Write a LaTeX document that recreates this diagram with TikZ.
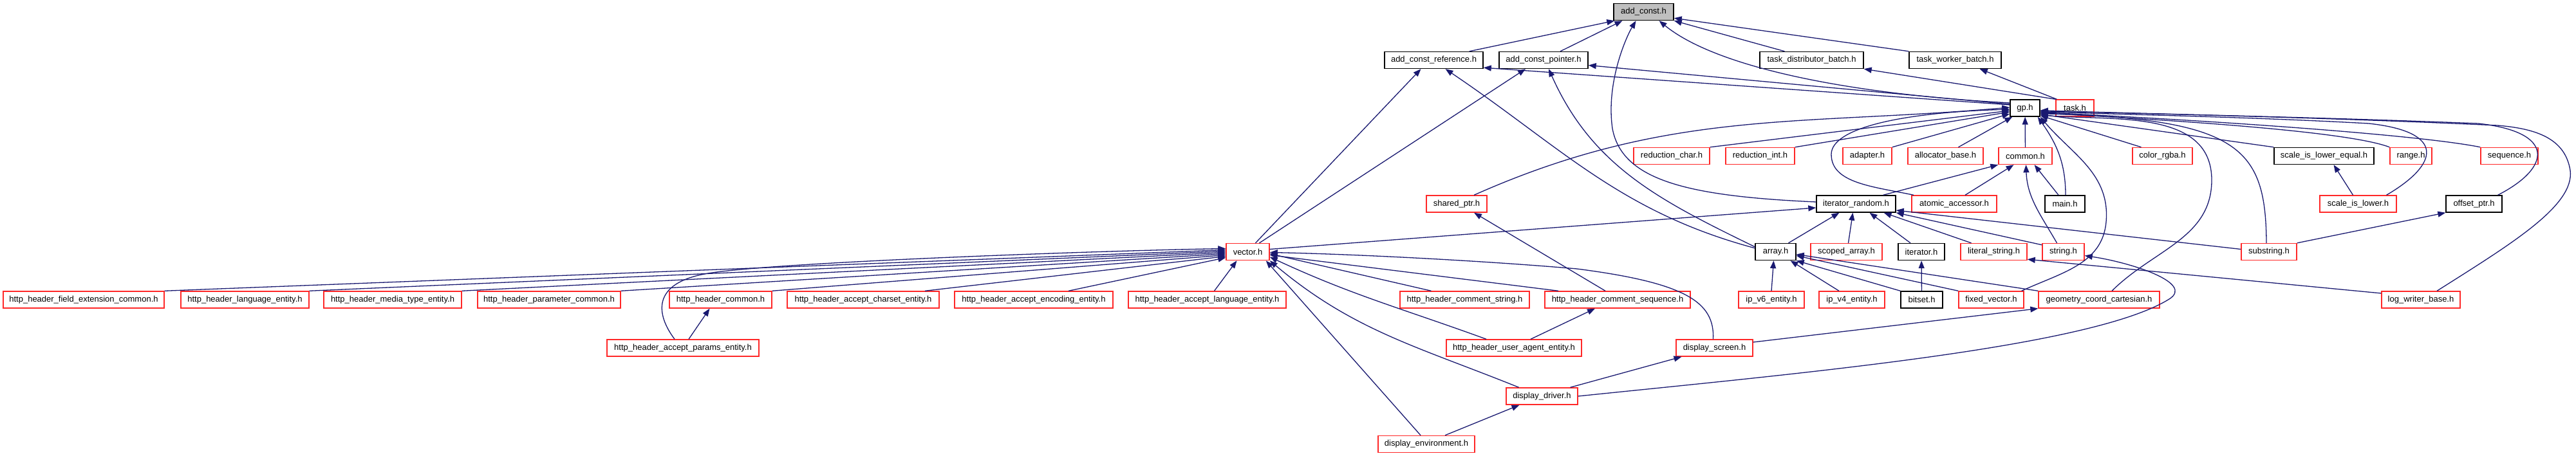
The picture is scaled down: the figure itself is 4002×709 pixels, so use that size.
\documentclass[tikz,border=0pt]{standalone}
\usepackage{fontspec}
\newfontfamily\nodefont{Liberation Sans}
\usetikzlibrary{arrows.meta}
\definecolor{nedge}{RGB}{25,25,112}
\definecolor{nred}{RGB}{255,40,40}
\definecolor{ngray}{RGB}{191,191,191}
\tikzset{
 nbox/.style={draw, line width=1.4pt, minimum height=26pt, inner sep=0pt, fill=white, text=black, font=\nodefont\fontsize{13}{15}\selectfont},
 blk/.style={nbox, draw=black},
 rbox/.style={nbox, draw=nred},
 gbox/.style={nbox, draw=black, fill=ngray},
 dep/.style={draw=nedge, line width=1.3pt, -{Triangle[length=12pt,width=9pt]}},
}
\begin{document}
\begin{tikzpicture}[x=1pt,y=-1pt]
\useasboundingbox (0,0) rectangle (4002,709);
% row 0
\node[gbox,minimum width=93pt] (addconst) at (2553.5,18.5) {add\_const.h};
% row 1
\node[blk,minimum width=153pt] (acref) at (2227.5,93.5) {add\_const\_reference.h};
\node[blk,minimum width=138pt] (acptr) at (2398,93.5) {add\_const\_pointer.h};
\node[blk,minimum width=161pt] (taskdist) at (2814.5,93.5) {task\_distributor\_batch.h};
\node[blk,minimum width=143pt] (taskwork) at (3037.5,93.5) {task\_worker\_batch.h};
% row 2
\node[blk,minimum width=46pt] (gp) at (3146,168) {gp.h};
\node[rbox,minimum width=59pt] (task) at (3223.5,168) {task.h};
% row 3
\node[rbox,minimum width=118pt] (redchar) at (2597,242.5) {reduction\_char.h};
\node[rbox,minimum width=107pt] (redint) at (2734.5,242.5) {reduction\_int.h};
\node[rbox,minimum width=76pt] (adapter) at (2901,242.5) {adapter.h};
\node[rbox,minimum width=117pt] (allocbase) at (3022.5,242.5) {allocator\_base.h};
\node[rbox,minimum width=83pt] (common) at (3146.5,242.5) {common.h};
\node[rbox,minimum width=93pt] (colorrgba) at (3359.5,242.5) {color\_rgba.h};
\node[blk,minimum width=155pt] (scalele) at (3610.5,242.5) {scale\_is\_lower\_equal.h};
\node[rbox,minimum width=65pt] (range) at (3745.5,242.5) {range.h};
\node[rbox,minimum width=89pt] (sequence) at (3898.5,242.5) {sequence.h};
% row 4
\node[rbox,minimum width=94pt] (sharedptr) at (2263,317) {shared\_ptr.h};
\node[blk,minimum width=123pt] (iterrand) at (2883.5,317) {iterator\_random.h};
\node[rbox,minimum width=132pt] (atomic) at (3036,317) {atomic\_accessor.h};
\node[blk,minimum width=62pt] (mainh) at (3208,317) {main.h};
\node[rbox,minimum width=119pt] (scalel) at (3663.5,317) {scale\_is\_lower.h};
\node[blk,minimum width=87pt] (offsetptr) at (3843.5,317) {offset\_ptr.h};
% row 5
\node[rbox,minimum width=67pt] (vector) at (1938.5,391.5) {vector.h};
\node[blk,minimum width=63pt] (array) at (2758.5,391.5) {array.h};
\node[rbox,minimum width=111pt] (scopedarray) at (2868.5,391.5) {scoped\_array.h};
\node[blk,minimum width=72pt] (iterator) at (2985,391.5) {iterator.h};
\node[rbox,minimum width=103pt] (literalstring) at (3097.5,391.5) {literal\_string.h};
\node[rbox,minimum width=65pt] (stringh) at (3205.5,391.5) {string.h};
\node[rbox,minimum width=86pt] (substring) at (3525,391.5) {substring.h};
% row 6
\node[rbox,minimum width=250pt] (hfield) at (130,466) {http\_header\_field\_extension\_common.h};
\node[rbox,minimum width=199pt] (hlang) at (380.5,466) {http\_header\_language\_entity.h};
\node[rbox,minimum width=214pt] (hmedia) at (610,466) {http\_header\_media\_type\_entity.h};
\node[rbox,minimum width=222pt] (hparam) at (853,466) {http\_header\_parameter\_common.h};
\node[rbox,minimum width=159pt] (hcommon) at (1119.5,466) {http\_header\_common.h};
\node[rbox,minimum width=236pt] (hcharset) at (1341,466) {http\_header\_accept\_charset\_entity.h};
\node[rbox,minimum width=246pt] (hencoding) at (1606,466) {http\_header\_accept\_encoding\_entity.h};
\node[rbox,minimum width=245pt] (hlanguage) at (1875.5,466) {http\_header\_accept\_language\_entity.h};
\node[rbox,minimum width=201pt] (hcstring) at (2275.5,466) {http\_header\_comment\_string.h};
\node[rbox,minimum width=226pt] (hcseq) at (2513,466) {http\_header\_comment\_sequence.h};
\node[rbox,minimum width=102pt] (ipv6) at (2752,466) {ip\_v6\_entity.h};
\node[rbox,minimum width=102pt] (ipv4) at (2877,466) {ip\_v4\_entity.h};
\node[blk,minimum width=65pt] (bitset) at (2985.5,466) {bitset.h};
\node[rbox,minimum width=101pt] (fixedvector) at (3093.5,466) {fixed\_vector.h};
\node[rbox,minimum width=188pt] (geometry) at (3261,466) {geometry\_coord\_cartesian.h};
\node[rbox,minimum width=122pt] (logwriter) at (3761,466) {log\_writer\_base.h};
% row 7
\node[rbox,minimum width=236pt] (hparams) at (1061,541) {http\_header\_accept\_params\_entity.h};
\node[rbox,minimum width=210pt] (huseragent) at (2352,541) {http\_header\_user\_agent\_entity.h};
\node[rbox,minimum width=119pt] (dscreen) at (2663.5,541) {display\_screen.h};
% row 8
\node[rbox,minimum width=111pt] (ddriver) at (2395.5,616) {display\_driver.h};
% row 9
\node[rbox,minimum width=150pt] (denv) at (2216,690.5) {display\_environment.h};

% ---- edges into add_const.h
\draw[dep] ([xshift=-22pt]acref.north east) -- ([xshift=2pt]addconst.south west);
\draw[dep] ([xshift=26pt]acptr.north) -- ([xshift=-33pt]addconst.south);
\draw[dep] ([yshift=3pt]iterrand.west) .. controls (2620,305) and (2520,280) .. (2505,200) .. controls (2495,130) and (2525,60) .. ([xshift=-12pt]addconst.south);
\draw[dep] ([yshift=8pt]gp.west) .. controls (2850,145) and (2660,100) .. ([xshift=24pt]addconst.south);
\draw[dep] ([xshift=-42pt]taskdist.north) -- (addconst.south east);
\draw[dep] (taskwork.north west) -- ([yshift=4pt]addconst.south east);
% ---- gp.h and task.h upward
\draw[dep] ([yshift=5pt]gp.west) -- ([yshift=2pt]acref.south east);
\draw[dep] ([yshift=6pt]gp.west) -- ([yshift=-8pt]acptr.east);
\draw[dep] (task.north west) -- (taskdist.south east);
\draw[dep] ([xshift=2pt]task.north west) -- ([xshift=-34pt]taskwork.south east);
% ---- vector.h and array.h upward
\draw[dep] ([xshift=12pt]vector.north) -- ([xshift=-20pt]acref.south);
\draw[dep] ([xshift=18pt]vector.north) -- ([xshift=-28pt]acptr.south);
\draw[dep] ([yshift=-8pt]array.north west) to[out=165,in=-34] ([xshift=18pt]acref.south);
\draw[dep] ([yshift=-6pt]array.north west) to[out=154,in=-66] ([xshift=8pt]acptr.south);
% ---- into gp.h from the left
\draw[dep] ([xshift=27pt]sharedptr.north) to[out=24,in=185] ([yshift=1pt]gp.west);
\draw[dep] ([xshift=-63pt]atomic.north) .. controls (2910,290) and (2845,285) .. (2845,240) .. controls (2845,200) and (2950,175) .. ([yshift=-2pt]gp.west);
\draw[dep] (redchar.north east) -- ([yshift=-4pt]gp.west);
\draw[dep] (redint.north east) -- ([yshift=-6pt]gp.west);
\draw[dep] (adapter.north east) -- ([yshift=-9pt]gp.west);
\draw[dep] ([xshift=20pt]allocbase.north) -- ([xshift=4pt]gp.south west);
\draw[dep] (common) -- (gp);
\draw[dep] ([xshift=1pt]mainh.north) to[out=90,in=-55] ([xshift=-4pt]gp.south east);
\draw[dep] ([xshift=-10pt]mainh.north) -- ([xshift=14pt]common.south);
\draw[dep] ([xshift=17pt]atomic.north) -- ([xshift=-18pt]common.south);
\draw[dep] ([xshift=42pt]iterrand.north) -- (common.south west);
\draw[dep] ([xshift=-10pt]stringh.north) to[out=120,in=-88] ([xshift=1pt]common.south);
% ---- into gp.h from the right
\draw[dep] ([xshift=-4pt]fixedvector.north east) to[out=25,in=-95] (3272,345) to[out=85,in=-50] (gp.south east);
\draw[dep] ([xshift=20pt]geometry.north) to[out=45,in=-90] (3436,280) to[out=90,in=-5] ([yshift=3pt]gp.south east);
\draw[dep] ([xshift=-4pt]substring.north) .. controls (3520,230) and (3480,185) .. ([yshift=5pt]gp.south east);
\draw[dep] ([xshift=-33pt]colorrgba.north) -- ([yshift=2pt]gp.south east);
\draw[dep] (scalele.north west) -- ([yshift=4pt]gp.south east);
\draw[dep] (range.north west) .. controls (3650,205) and (3400,188) .. ([yshift=6pt]gp.south east);
\draw[dep] (sequence.north west) .. controls (3760,210) and (3450,188) .. ([yshift=7pt]gp.south east);
\draw[dep] ([xshift=44pt]scalel.north) .. controls (3790,255) and (3800,205) .. (3680,192) .. controls (3500,182) and (3300,178) .. ([yshift=8pt]gp.south east);
\draw[dep] ([xshift=37pt]offsetptr.north) .. controls (3965,260) and (3970,205) .. (3850,192) .. controls (3600,182) and (3300,176) .. ([yshift=9pt]gp.south east);
\draw[dep] ([xshift=25pt]logwriter.north) .. controls (3900,380) and (4000,320) .. (3993,265) .. controls (3985,215) and (3940,200) .. (3880,195) .. controls (3600,182) and (3300,176) .. ([yshift=10pt]gp.south east);
\draw[dep] ([xshift=-8pt]scalel.north) -- ([xshift=15pt]scalele.south);
\draw[dep] (substring.north east) -- (offsetptr.south west);
\draw[dep] ([yshift=10pt]logwriter.west) -- ([yshift=2pt]literalstring.south east);
% ---- display files
\draw[dep] (ddriver.east) .. controls (2800,580) and (3250,540) .. (3370,465) .. controls (3410,440) and (3310,408) .. ([yshift=-6pt]stringh.east);
\draw[dep] ([yshift=9pt]dscreen.east) -- (geometry.south west);
\draw[dep] ([xshift=44pt]ddriver.north) -- ([xshift=-51pt]dscreen.south);
\draw[dep] ([xshift=29pt]denv.north) -- ([xshift=-35pt]ddriver.south);
\draw[dep] ([xshift=-9pt]denv.north) -- ([xshift=-6pt]vector.south east);
\draw[dep] ([xshift=-36pt]ddriver.north) to[out=158,in=-40] (vector.south east);
\draw[dep] ([xshift=-2pt]dscreen.north) .. controls (2664,470) and (2620,440) .. (2450,418) .. controls (2300,405) and (2100,395) .. ([yshift=-1pt]vector.east);
% ---- http header files on the right of vector.h
\draw[dep] ([xshift=-43pt]huseragent.north) to[out=160,in=-25] ([yshift=-8pt]vector.east);
\draw[dep] ([xshift=26pt]huseragent.north) -- ([xshift=-35pt]hcseq.south);
\draw[dep] ([xshift=-92pt]hcseq.north) -- ([yshift=-5pt]vector.east);
\draw[dep] ([xshift=-52pt]hcstring.north) -- ([yshift=-3pt]vector.east);
\draw[dep] ([xshift=-19pt]hcseq.north) -- ([xshift=27pt]sharedptr.south);
% ---- into iterator_random.h
\draw[dep] ([yshift=4pt]vector.east) -- ([yshift=-6pt]iterrand.west);
\draw[dep] ([xshift=20pt]array.north) -- ([xshift=-26pt]iterrand.south);
\draw[dep] ([xshift=3pt]scopedarray.north) -- ([xshift=-5pt]iterrand.south);
\draw[dep] ([xshift=-17pt]iterator.north) -- ([xshift=21pt]iterrand.south);
\draw[dep] ([xshift=-35pt]literalstring.north) -- ([xshift=43pt]iterrand.south);
\draw[dep] ([yshift=-3pt]stringh.north west) -- (iterrand.south east);
\draw[dep] ([yshift=4pt]substring.west) -- ([yshift=-10pt]iterrand.east);
% ---- into array.h and iterator.h
\draw[dep] (ipv6.north) -- ([xshift=-3pt]array.south);
\draw[dep] ([xshift=-20pt]ipv4.north) -- ([xshift=23pt]array.south);
\draw[dep] (bitset.north west) -- (array.south east);
\draw[dep] (fixedvector.north west) -- ([yshift=-6pt]array.east);
\draw[dep] (geometry.north west) -- ([yshift=-4pt]array.east);
\draw[dep] (bitset) -- (iterator);
% ---- http header files on the left of vector.h
\draw[dep] (hfield.north east) -- ([yshift=3pt]vector.west);
\draw[dep] (hlang.north east) -- ([yshift=1pt]vector.west);
\draw[dep] (hmedia.north east) -- ([yshift=-1pt]vector.west);
\draw[dep] (hparam.north east) -- ([yshift=-3pt]vector.west);
\draw[dep] (hcommon.north east) -- ([yshift=-5pt]vector.west);
\draw[dep] ([xshift=96pt]hcharset.north) -- ([yshift=-7pt]vector.west);
\draw[dep] ([xshift=54pt]hencoding.north) -- ([yshift=-9pt]vector.west);
\draw[dep] ([xshift=11pt]hlanguage.north) -- ([xshift=-17pt]vector.south);
\draw[dep] ([xshift=9pt]hparams.north) -- ([xshift=-17pt]hcommon.south);
\draw[dep] ([xshift=-13pt]hparams.north) .. controls (1020,490) and (1010,440) .. (1100,425) .. controls (1200,408) and (1700,390) .. ([yshift=5pt]vector.west);
\end{tikzpicture}
\end{document}
